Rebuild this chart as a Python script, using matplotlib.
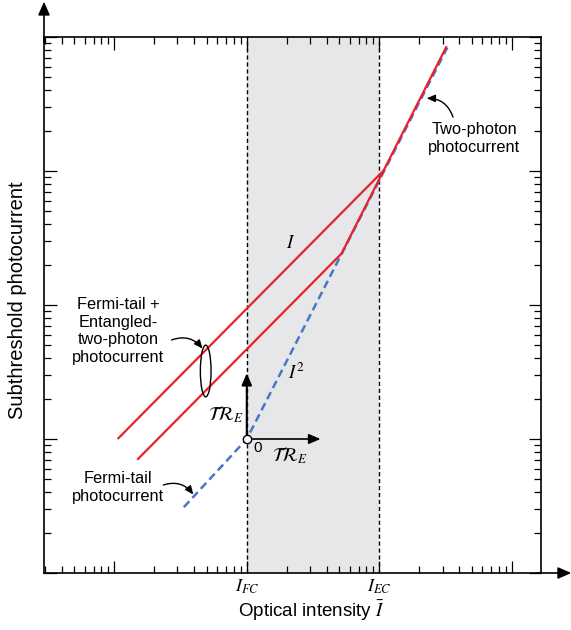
import numpy as np
import matplotlib
matplotlib.use("Agg")
import matplotlib.pyplot as plt
from matplotlib.patches import Ellipse
from matplotlib.ticker import FixedLocator, LogLocator, NullFormatter, FixedFormatter

plt.rcParams['font.family'] = ['Liberation Sans', 'DejaVu Sans']
plt.rcParams['mathtext.fontset'] = 'stix'

# ---- data (I_FC = 1, I_EC = 10) ----
I_FC = 1.0
I_EC = 10.0
blue_x = [0.335, 1.0, 32.6]          # Fermi-tail -> two-photon (dashed)
blue_y = [0.31, 1.0, 834.0]
red_lower_x = [0.149, 5.19, 32.2]    # lower red path
red_lower_y = [0.70, 24.2, 853.0]
red_upper_x = [0.106, 10.9]          # upper red line
red_upper_y = [1.0, 102.0]
origin_pt = (1.0, 1.0)
arrow_up_end = (1.0, 3.1)
arrow_right_end = (3.6, 1.0)
x_major = [0.1, 1.0, 10.0, 100.0]
x_major_labels = ['', r'$I_{FC}$', r'$I_{EC}$', '']
xlim = (0.0295, 166.0)
ylim = (0.1, 1000.0)

RED = '#e8212b'
BLUE = '#4a76c6'
SHADE = '#e6e7e9'

fig = plt.figure(figsize=(5.71, 6.30), dpi=100)
ax = fig.add_axes([44/571, 1-573/630, (541-44)/571, (573-37)/630])
ax.set_xscale('log')
ax.set_yscale('log')
ax.set_xlim(*xlim)
ax.set_ylim(*ylim)

ax.axvspan(I_FC, I_EC, color=SHADE, lw=0, zorder=0)
for xv in (I_FC, I_EC):
    ax.axvline(xv, color='black', lw=1.0, ls=(0, (3, 2)), zorder=1)

ax.plot(red_upper_x, red_upper_y, color=RED, lw=1.6, zorder=3, solid_capstyle='butt')
ax.plot(red_lower_x, red_lower_y, color=RED, lw=1.6, zorder=3, solid_capstyle='butt')
ax.plot(blue_x, blue_y, color=BLUE, lw=1.8, dashes=(3.2, 1.8), zorder=2)

# TR_E arrows
ax.annotate('', xy=arrow_up_end, xytext=origin_pt,
            arrowprops=dict(arrowstyle='-|>,head_length=0.7,head_width=0.3', color='black', lw=1.5,
                            shrinkA=0, shrinkB=0), zorder=4)
ax.annotate('', xy=arrow_right_end, xytext=origin_pt,
            arrowprops=dict(arrowstyle='-|>,head_length=0.7,head_width=0.3', color='black', lw=1.2,
                            shrinkA=0, shrinkB=0), zorder=4)
ax.plot([origin_pt[0]], [origin_pt[1]], marker='o', ms=6, mfc='white', mec='black', mew=1.0, zorder=5)

# ticks
ax.xaxis.set_major_locator(FixedLocator(x_major))
ax.xaxis.set_major_formatter(FixedFormatter(x_major_labels))
ax.xaxis.set_minor_locator(LogLocator(base=10, subs=np.arange(2, 10), numticks=100))
ax.xaxis.set_minor_formatter(NullFormatter())
ax.yaxis.set_major_locator(LogLocator(base=10, numticks=100))
ax.yaxis.set_minor_locator(LogLocator(base=10, subs=np.arange(2, 10), numticks=100))
ax.yaxis.set_major_formatter(NullFormatter())
ax.yaxis.set_minor_formatter(NullFormatter())
ax.tick_params(which='both', direction='in', top=True, right=True, width=0.9, color='black')
ax.tick_params(which='major', length=9)
ax.tick_params(which='minor', length=5.2)
ax.tick_params(axis='x', which='major', labelsize=13, pad=3.5)
for s in ax.spines.values():
    s.set_linewidth(1.2)

# axis arrows
ax.annotate('', xy=(0, 1.066), xytext=(0, 0.99), xycoords='axes fraction',
            arrowprops=dict(arrowstyle='-|>,head_length=0.8,head_width=0.35', color='black', lw=1.2,
                            shrinkA=0, shrinkB=0), annotation_clip=False)
ax.annotate('', xy=(1.061, 0), xytext=(0.99, 0), xycoords='axes fraction',
            arrowprops=dict(arrowstyle='-|>,head_length=0.8,head_width=0.35', color='black', lw=1.2,
                            shrinkA=0, shrinkB=0), annotation_clip=False)

# axis labels
fig.text(18/571, 1-300/630, 'Subthreshold photocurrent', rotation=90, ha='center', va='center', fontsize=14.5)
fig.text(311/571, 1-611/630, r'Optical intensity $\bar{I}$', ha='center', va='center', fontsize=13.5)

# annotation texts
T = ax.transAxes
def fx(px): return (px - 44) / 497
def fy(py): return (573 - py) / 536

ax.text(fx(118), fy(331), 'Fermi-tail +\nEntangled-\ntwo-photon\nphotocurrent', transform=T,
        ha='center', va='center', fontsize=11.8, linespacing=1.22)
ax.text(fx(118), fy(487.5), 'Fermi-tail\nphotocurrent', transform=T,
        ha='center', va='center', fontsize=11.8, linespacing=1.22)
ax.text(fx(474), fy(138.5), 'Two-photon\nphotocurrent', transform=T,
        ha='center', va='center', fontsize=11.8, linespacing=1.22)

ax.add_patch(Ellipse((fx(205.7), fy(371)), 10.7/497, 51.7/536, transform=T,
                     fill=False, ec='black', lw=1.0, zorder=6))

ap = dict(arrowstyle='-|>,head_length=0.5,head_width=0.22', color='black', lw=1.0, shrinkA=0, shrinkB=0)
ax.annotate('', xy=(fx(202.5), fy(348.5)), xytext=(fx(171.5), fy(340)), xycoords='axes fraction',
            arrowprops=dict(ap, connectionstyle='arc3,rad=-0.35'))
ax.annotate('', xy=(fx(193.3), fy(494.5)), xytext=(fx(163.3), fy(485)), xycoords='axes fraction',
            arrowprops=dict(ap, connectionstyle='arc3,rad=-0.35'))
ax.annotate('', xy=(fx(426.7), fy(98.3)), xytext=(fx(453), fy(117)), xycoords='axes fraction',
            arrowprops=dict(ap, connectionstyle='arc3,rad=0.35'))

ax.text(fx(291), fy(243), r'$I$', transform=T, ha='center', va='center', fontsize=13.5)
ax.text(fx(296), fy(373), r'$I^2$', transform=T, ha='center', va='center', fontsize=13.5)
ax.text(fx(257.5), fy(447.5), '0', transform=T, ha='center', va='center', fontsize=11)
ax.text(fx(226.5), fy(414.5), r'$\mathcal{TR}_E$', transform=T, ha='center', va='center', fontsize=13.5)
ax.text(fx(290), fy(455), r'$\mathcal{TR}_E$', transform=T, ha='center', va='center', fontsize=13.5)

fig.savefig('out.png', dpi=100)
